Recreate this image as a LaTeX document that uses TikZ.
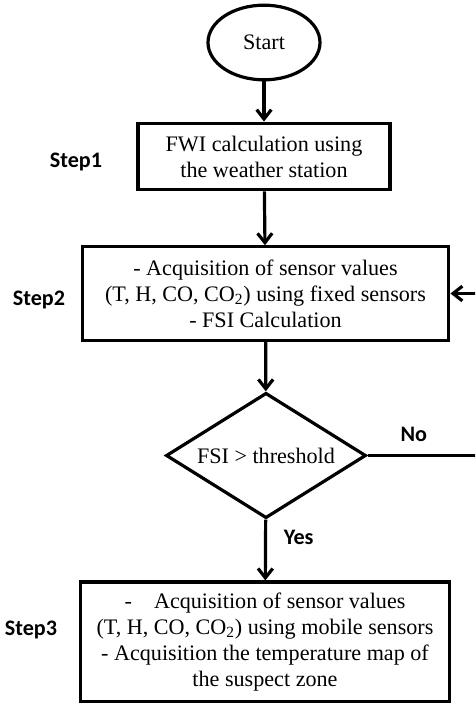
\documentclass[tikz,border=0pt]{standalone}
\usepackage{fontspec}
\setmainfont{Liberation Serif}
\newfontfamily\labelfont{Carlito}
\usepackage{tikz}
\usetikzlibrary{shapes,shapes.geometric}
\usetikzlibrary{arrows.meta}
\begin{document}
\begin{tikzpicture}[x=0.75pt,y=-0.75pt,line width=2.4pt,
	node font=\fontsize{16.6}{19.6}\selectfont,
	box/.style={draw,rectangle,align=center,inner sep=0pt},
	arr/.style={-{Straight Barb[length=7pt,width=11pt,line width=2.4pt]}},
	steplabel/.style={font=\labelfont\bfseries\fontsize{16.6}{19}\selectfont}]
			\clip (0,0) rectangle (475,703);
			% main column
			\node[draw,ellipse,minimum width=84pt,minimum height=56pt,inner sep=0pt] (start) at (264,42.5) {Start};
			\node[box,minimum width=189pt,minimum height=50pt] (fwi) at (264,156.5)
				{FWI calculation using\\the weather station};
			\node[box,minimum width=275pt,minimum height=70pt] (acq) at (265.5,293.5)
				{- Acquisition of sensor values\\(T, H, CO, CO\textsubscript{2}) using fixed sensors\\- FSI Calculation};
			\node[draw,diamond,aspect=1.6,minimum width=150pt,minimum height=94pt,inner sep=0pt] (test) at (266,455.5)
				{FSI > threshold};
			\node[box,minimum width=277pt,minimum height=90pt] (mob) at (265,642)
				{-\quad Acquisition of sensor values\\(T, H, CO, CO\textsubscript{2}) using mobile sensors\\- Acquisition the temperature map of\\the suspect zone};

			% step labels
			\node[steplabel] (s1) at (76,162) {Step1};
			\node[steplabel] (s2) at (39,300) {Step2};
			\node[steplabel] (s3) at (31,630) {Step3};

			\draw[arr] (start) -- (fwi);
			\draw[arr] (fwi) -- (acq);
			\draw[arr] (acq) -- (test);
			\draw[arr] (test) -- node[steplabel,right=7pt,pos=0.3] (yes) {Yes} (mob);
			\draw[arr] (test.east) -- node[steplabel,above=4pt,pos=0.37] (no) {No} ++(125,0) |- (acq.east);
		\end{tikzpicture}
\end{document}
